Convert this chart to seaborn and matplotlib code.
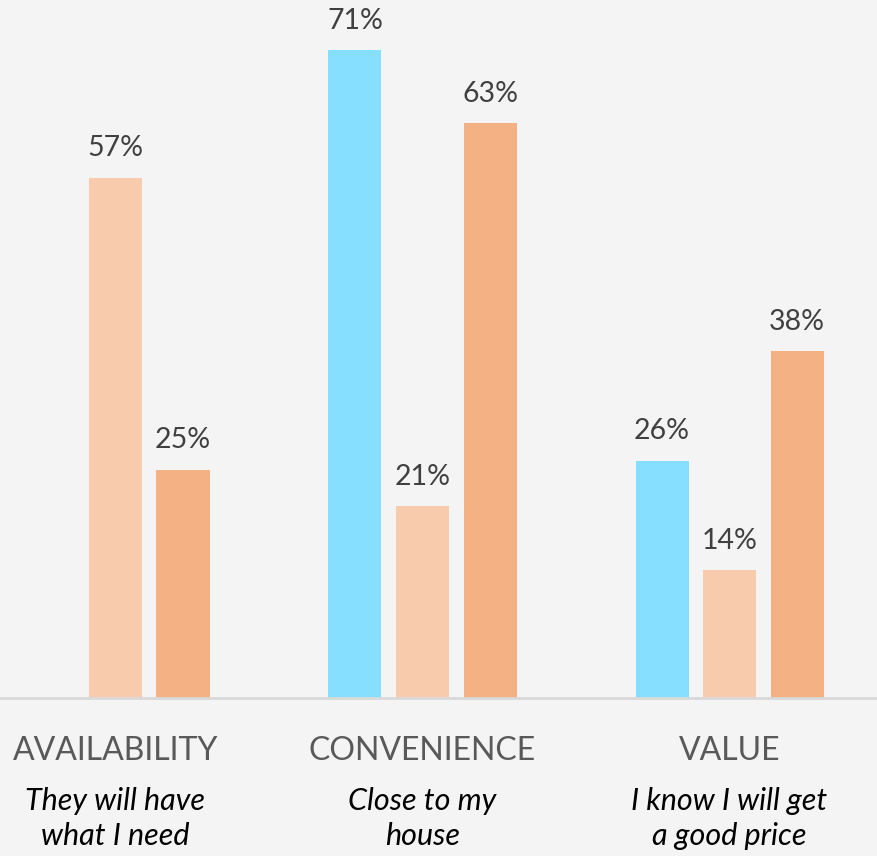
import numpy as np
import pandas as pd
import matplotlib.pyplot as plt
import seaborn as sns

categories = ["AVAILABILITY", "CONVENIENCE", "VALUE"]
subtitles = ["They will have\nwhat I need", "Close to my\nhouse", "I know I will get\na good price"]
series = ["Series 1", "Series 2", "Series 3"]
values = {
    "Series 1": [np.nan, 71, 26],
    "Series 2": [57, 21, 14],
    "Series 3": [25, 63, 38],
}
palette = ["#87DFFF", "#F8CBAD", "#F4B183"]

rows = []
for s in series:
    for cat, v in zip(categories, values[s]):
        rows.append({"category": cat, "series": s, "value": v})
df = pd.DataFrame(rows)

sns.set_theme(style="white")
plt.rcParams["font.family"] = ["Lato", "DejaVu Sans"]

fig = plt.figure(figsize=(8.77, 8.56), dpi=100, facecolor="#F4F4F4")
ax = fig.add_axes([0, 1 - 698 / 856, 1, 698 / 856])
ax.set_facecolor("#F4F4F4")

sns.barplot(data=df, x="category", y="value", hue="series", order=categories,
            hue_order=series, palette=palette, width=0.66, gap=0.215,
            linewidth=0, saturation=1, legend=False, ax=ax)

for c in ax.containers:
    labels = ["" if np.isnan(v) else f"{v:.0f}%" for v in c.datavalues]
    ax.bar_label(c, labels=labels, padding=12, fontsize=20.5, color="#404040")

ax.set_xlim(-0.376, 2.48)
ax.set_ylim(0, 76.5)
ax.set_yticks([])
ax.set_xlabel("")
ax.set_ylabel("")
for side in ["top", "left", "right"]:
    ax.spines[side].set_visible(False)
ax.spines["bottom"].set_color("#D9D9D9")
ax.spines["bottom"].set_linewidth(2)

ax.set_xticks(range(len(categories)))
ax.set_xticklabels(categories, fontsize=23, color="#595959")
ax.tick_params(axis="x", length=0, pad=27)

for i, sub in enumerate(subtitles):
    ax.text(i, -0.128, sub, transform=ax.get_xaxis_transform(), ha="center", va="top",
            fontsize=22, fontstyle="italic", color="black", linespacing=1.3)

fig.savefig("out.png", dpi=100, facecolor=fig.get_facecolor())
